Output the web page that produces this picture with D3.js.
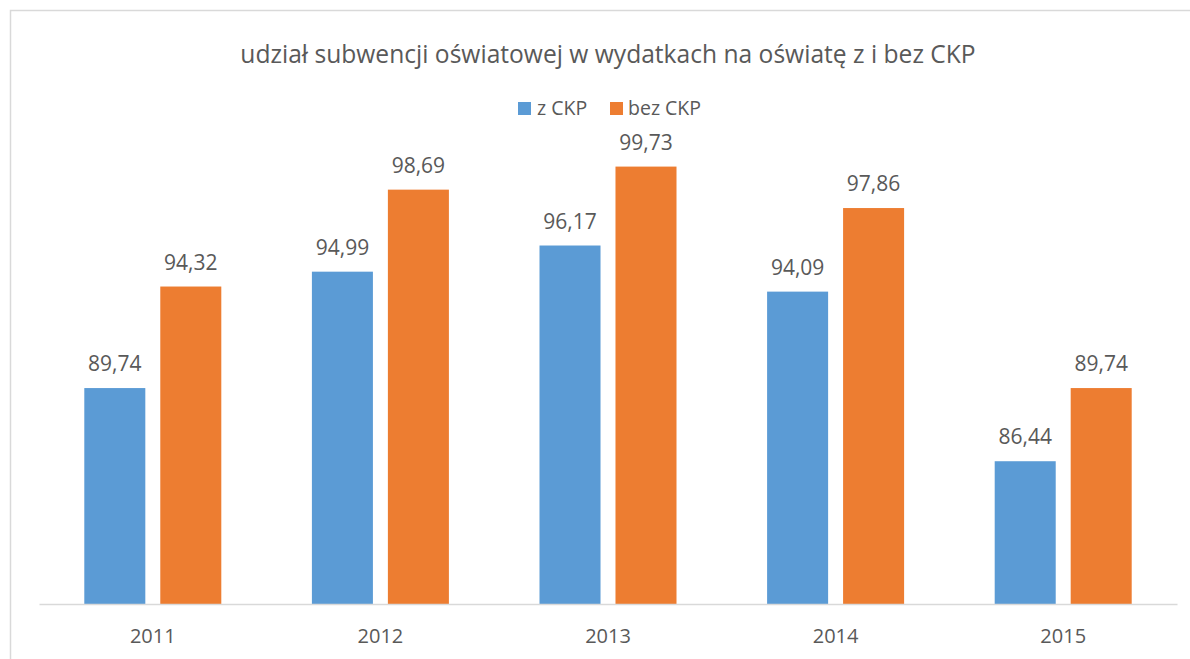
<!DOCTYPE html>
<html>
<head>
<meta charset="utf-8">
<script src="https://cdn.jsdelivr.net/npm/d3@7"></script>
<style>
  html, body { margin: 0; padding: 0; background: #fff; }
  svg text { font-family: "Open Sans", "DejaVu Sans", sans-serif; fill: #595959; }
</style>
</head>
<body>
<div id="chart"></div>
<script>
// ---- Data -------------------------------------------------------------------
const years = ["2011", "2012", "2013", "2014", "2015"];
const seriesNames = ["z CKP", "bez CKP"];
const zCKP = [89.74, 94.99, 96.17, 94.09, 86.44];
const bezCKP = [94.32, 98.69, 99.73, 97.86, 89.74];
const colors = ["#5B9BD5", "#ED7D31"];
const titleText = "udział subwencji oświatowej w wydatkach na oświatę z i bez CKP";

const fmt = (v) => v.toFixed(2).replace(".", ",");

// ---- Layout -----------------------------------------------------------------
const width = 1190, height = 659;
const plot = { left: 39, right: 1177, bottom: 604 };

const svg = d3.select("#chart").append("svg")
  .attr("width", width).attr("height", height);

// chart frame
svg.append("rect")
  .attr("x", 10.5).attr("y", 10.5)
  .attr("width", width).attr("height", height)
  .attr("fill", "none").attr("stroke", "#d9d9d9").attr("stroke-width", 1.5);

const x0 = d3.scaleBand().domain(years).range([plot.left, plot.right]).padding(0);
const groupW = 137;
const x1 = d3.scaleBand().domain(seriesNames).range([-groupW / 2, groupW / 2])
  .paddingInner(0.197).paddingOuter(0);

const y = d3.scaleLinear().domain([80, 102]).range([plot.bottom, plot.bottom - 22 * 22.17]);

const rows = years.map((yr, i) => ({ year: yr, values: [zCKP[i], bezCKP[i]] }));

const groups = svg.append("g").selectAll("g")
  .data(rows).join("g")
  .attr("transform", d => `translate(${x0(d.year) + x0.bandwidth() / 2},0)`);

groups.selectAll("rect")
  .data(d => d.values.map((v, k) => ({ key: seriesNames[k], v, k })))
  .join("rect")
  .attr("x", d => x1(d.key))
  .attr("y", d => y(d.v))
  .attr("width", x1.bandwidth())
  .attr("height", d => y(80) - y(d.v))
  .attr("fill", d => colors[d.k]);

groups.selectAll("text.val")
  .data(d => d.values.map((v, k) => ({ key: seriesNames[k], v, k })))
  .join("text")
  .attr("class", "val")
  .attr("x", d => x1(d.key) + x1.bandwidth() / 2)
  .attr("y", d => y(d.v) - 17)
  .attr("text-anchor", "middle")
  .attr("font-size", 21)
  .text(d => fmt(d.v));

// baseline + category axis
const xAxis = svg.append("g")
  .attr("transform", `translate(0,${plot.bottom})`)
  .call(d3.axisBottom(x0).tickSize(0).tickPadding(25));
xAxis.select(".domain").attr("stroke", "#d9d9d9").attr("stroke-width", 1.5);
xAxis.selectAll("text")
  .attr("font-size", 20)
  .style("font-family", '"Open Sans", sans-serif')
  .attr("fill", "#595959");

// title
svg.append("text")
  .attr("x", 608).attr("y", 63)
  .attr("text-anchor", "middle")
  .attr("font-size", 24.6)
  .text(titleText);

// legend
const legend = svg.append("g").attr("transform", "translate(518,102)");
const legendX = [0, 92];
seriesNames.forEach((name, k) => {
  const g = legend.append("g").attr("transform", `translate(${legendX[k]},0)`);
  g.append("rect").attr("width", 13).attr("height", 13).attr("fill", colors[k]);
  g.append("text").attr("x", k === 0 ? 19 : 18).attr("y", 13).attr("font-size", 19.5).text(name);
});
</script>
</body>
</html>
